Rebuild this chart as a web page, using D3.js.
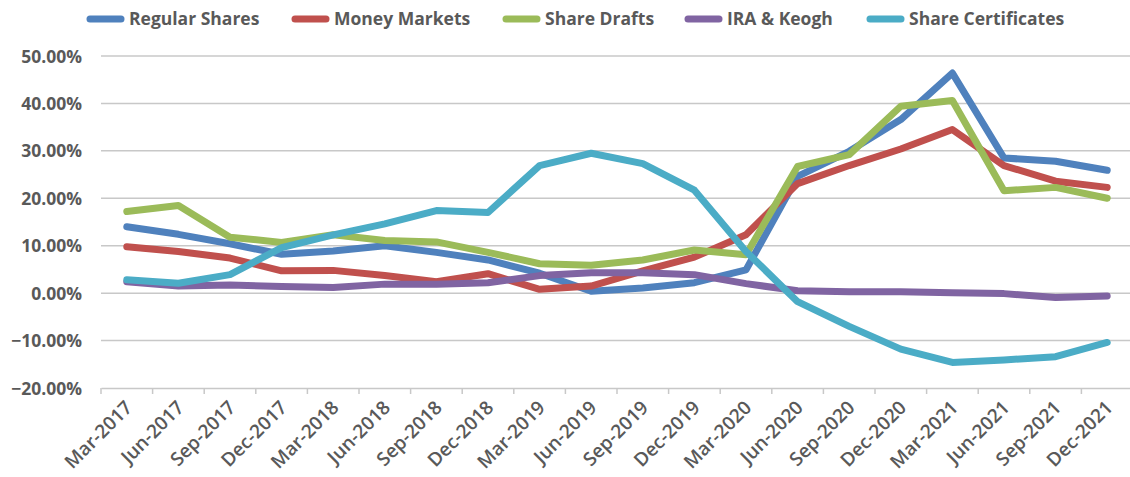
<!DOCTYPE html>
<html>
<head>
<meta charset="utf-8">
<script src="https://cdn.jsdelivr.net/npm/d3@7"></script>
<style>
  body { margin: 0; background: #fff; }
  text { font-family: "Open Sans", sans-serif; font-weight: bold; fill: #595959; }
</style>
</head>
<body>
<div id="chart"></div>
<script>
// quarters
var quarters = ["Mar-2017","Jun-2017","Sep-2017","Dec-2017","Mar-2018","Jun-2018","Sep-2018","Dec-2018",
  "Mar-2019","Jun-2019","Sep-2019","Dec-2019","Mar-2020","Jun-2020","Sep-2020","Dec-2020",
  "Mar-2021","Jun-2021","Sep-2021","Dec-2021"];

// growth rates, percent
var regularShares = [14.0,12.4,10.4,8.2,8.9,10.0,8.6,7.0,4.2,0.4,1.1,2.2,4.9,24.6,29.9,36.6,46.4,28.5,27.8,25.9];
var moneyMarkets = [9.8,8.8,7.4,4.7,4.8,3.7,2.4,4.1,0.8,1.5,4.7,7.6,12.3,23.1,26.9,30.4,34.5,26.9,23.6,22.3];
var shareDrafts = [17.2,18.5,11.8,10.7,12.3,11.1,10.8,8.6,6.2,5.9,7.0,9.1,8.1,26.7,29.2,39.4,40.6,21.6,22.3,20.0];
var iraKeogh = [2.4,1.5,1.7,1.4,1.2,1.9,1.9,2.2,3.7,4.3,4.3,3.9,2.0,0.5,0.3,0.3,0.1,-0.1,-0.9,-0.6];
var shareCertificates = [2.8,2.1,3.9,9.6,12.3,14.6,17.4,17.0,26.9,29.5,27.3,21.7,8.8,-1.8,-7.0,-11.8,-14.6,-14.1,-13.4,-10.4];

var seriesNames = ["Regular Shares","Money Markets","Share Drafts","IRA & Keogh","Share Certificates"];
var seriesValues = [regularShares, moneyMarkets, shareDrafts, iraKeogh, shareCertificates];
var colors = ["#4F81BD","#C0504D","#9BBB59","#8064A2","#4BACC6"];
var yTicks = [-20,-10,0,10,20,30,40,50];

var W = 1130, H = 477;
var svg = d3.select("#chart").append("svg").attr("width", W).attr("height", H);

var x = d3.scaleBand().domain(quarters).range([101, 1133]);
var y = d3.scaleLinear().domain([-20, 50]).range([388, 56]);

// gridlines
svg.append("g").selectAll("line").data(yTicks.filter(function(d){return d > -20;})).enter().append("line")
  .attr("x1", 101).attr("x2", W)
  .attr("y1", function(d){return y(d);}).attr("y2", function(d){return y(d);})
  .style("stroke", "#C8C8C8").style("stroke-width", 1.5);

// y axis labels
var yAxis = d3.axisLeft(y).tickValues(yTicks).tickSize(0).tickPadding(0)
  .tickFormat(function(d){return d3.format(".2f")(d) + "%";});
var gy = svg.append("g").attr("transform", "translate(82,0)").call(yAxis);
gy.select(".domain").remove();
gy.selectAll("text").style("font-size", "17.5px").attr("dy", "0.35em");

// x axis
var xAxis = d3.axisBottom(x).tickSize(0).tickPadding(0);
var gx = svg.append("g").attr("transform", "translate(0,388)").call(xAxis);
gx.select(".domain").style("stroke", "#C8C8C8").style("stroke-width", 1.5);
gx.selectAll("text")
  .style("font-size", "19px")
  .style("font-weight", "600")
  .attr("text-anchor", "end")
  .attr("transform", function(){return "translate(2,16) rotate(-45)";})
  .attr("dy", "0.35em").attr("y", 0).attr("x", 0);
// boundary ticks
svg.append("g").selectAll("line").data(quarters).enter().append("line")
  .attr("x1", function(d){return x(d);}).attr("x2", function(d){return x(d);})
  .attr("y1", 388).attr("y2", 394)
  .style("stroke", "#C8C8C8").style("stroke-width", 1.5);

// lines
var line = d3.line()
  .x(function(d, i){return x(quarters[i]) + x.bandwidth()/2;})
  .y(function(d){return y(d);});

svg.append("g").selectAll("path").data(seriesValues).enter().append("path")
  .attr("d", function(d){return line(d);})
  .style("fill", "none")
  .style("stroke", function(d, i){return colors[i];})
  .style("stroke-width", 7)
  .style("stroke-linejoin", "round")
  .style("stroke-linecap", "round");

// legend
var legendX = [87, 292, 503, 685, 867];
var lg = svg.append("g").selectAll("g").data(seriesNames).enter().append("g")
  .attr("transform", function(d, i){return "translate(" + legendX[i] + ",19)";});
lg.append("line").attr("x1", 3).attr("x2", 34).attr("y1", 0).attr("y2", 0)
  .style("stroke", function(d, i){return colors[i];})
  .style("stroke-width", 7).style("stroke-linecap", "round");
lg.append("text").attr("x", 42).attr("dy", "0.35em").style("font-size", "17.5px")
  .text(function(d){return d;});
</script>
</body>
</html>
